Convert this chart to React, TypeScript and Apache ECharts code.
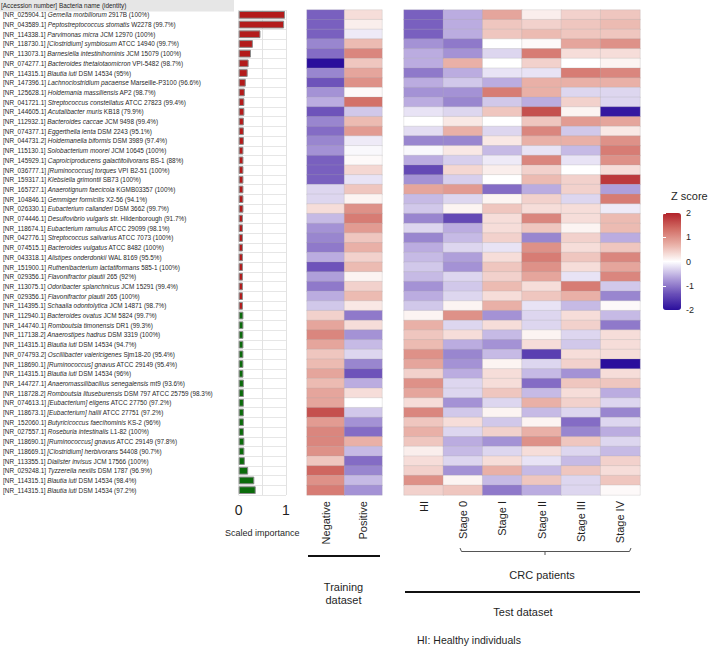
import React, { useEffect, useRef } from "react";
import * as echarts from "echarts";

const accessions = ["NR_025904.1","NR_043589.1","NR_114338.1","NR_118730.1","NR_113073.1","NR_074277.1","NR_114315.1","NR_147396.1","NR_125628.1","NR_041721.1","NR_144605.1","NR_112932.1","NR_074377.1","NR_044731.2","NR_115130.1","NR_145929.1","NR_036777.1","NR_159317.1","NR_165727.1","NR_104846.1","NR_026330.1","NR_074446.1","NR_118674.1","NR_042776.1","NR_074515.1","NR_043318.1","NR_151900.1","NR_029356.1","NR_113075.1","NR_029356.1","NR_114395.1","NR_112940.1","NR_144740.1","NR_117138.2","NR_114315.1","NR_074793.2","NR_118690.1","NR_114315.1","NR_144727.1","NR_118728.2","NR_074613.1","NR_118673.1","NR_152060.1","NR_027557.1","NR_118690.1","NR_118669.1","NR_113355.1","NR_029248.1","NR_114315.1","NR_114315.1"];

const speciesNames = ["Gemella morbillorum","Peptostreptococcus stomatis","Parvimonas micra","[Clostridium] symbiosum","Barnesiella intestinihominis","Bacteroides thetaiotaomicron","Blautia luti","Lachnoclostridium pacaense","Holdemania massiliensis","Streptococcus constellatus","Acutalibacter muris","Bacteroides caccae","Eggerthella lenta","Holdemanella biformis","Solobacterium moorei","Caproiciproducens galactitolivorans","[Ruminococcus] torques","Klebsiella grimontii","Anaerotignum faecicola","Gemmiger formicilis","Eubacterium callanderi","Desulfovibrio vulgaris","Eubacterium ramulus","Streptococcus salivarius","Bacteroides vulgatus","Alistipes onderdonkii","Ruthenibacterium lactatiformans","Flavonifractor plautii","Odoribacter splanchnicus","Flavonifractor plautii","Schaalia odontolytica","Bacteroides ovatus","Romboutsia timonensis","Anaerostipes hadrus","Blautia luti","Oscillibacter valericigenes","[Ruminococcus] gnavus","Blautia luti","Anaeromassilibacillus senegalensis","Romboutsia lituseburensis","[Eubacterium] eligens","[Eubacterium] hallii","Butyricicoccus faecihominis","Roseburia intestinalis","[Ruminococcus] gnavus","[Clostridium] herbivorans","Dialister invisus","Tyzzerella nexilis","Blautia luti","Blautia luti"];

const strains = ["2917B","W2278","JCM 12970","ATCC 14940","JCM 15079","VPI-5482","DSM 14534","Marseille-P3100","AP2","ATCC 27823","KB18","JCM 9498","DSM 2243","DSM 3989","JCM 10645","BS-1","VPI B2-51","SB73","KGMB03357","X2-56","DSM 3662","str. Hildenborough","ATCC 29099","ATCC 7073","ATCC 8482","WAL 8169","585-1","265","JCM 15291","265","JCM 14871","JCM 5824","DR1","DSM 3319","DSM 14534","Sjm18-20","ATCC 29149","DSM 14534","mt9","DSM 797 ATCC 25759","ATCC 27750","ATCC 27751","KS-2","L1-82","ATCC 29149","54408","JCM 17566","DSM 1787","DSM 14534","DSM 14534"];

const identities = ["100%","99.7%","100%","99.7%","100%","98.7%","95%","96.6%","98.7%","99.4%","79.9%","99.4%","95.1%","97.4%","100%","88%","100%","100%","100%","94.1%","99.7%","91.7%","98.1%","100%","100%","95.5%","100%","92%","99.4%","100%","98.7%","99.7%","99.3%","100%","94.7%","95.4%","95.4%","96%","93.6%","98.3%","97.2%","97.2%","96%","100%","97.8%","90.7%","100%","96.9%","98.4%","97.2%"];

// R = enriched in CRC (red bar), G = depleted (green bar)
const groups = ["R","R","R","R","R","R","R","R","R","R","R","R","R","R","R","R","R","R","R","R","R","R","R","R","R","R","R","R","R","R","R","G","G","G","G","G","G","G","G","G","G","G","G","G","G","G","G","G","G","G"];

const importance = [0.98,0.96,0.46,0.30,0.26,0.21,0.19,0.15,0.13,0.12,0.12,0.11,0.11,0.11,0.10,0.10,0.10,0.10,0.10,0.10,0.10,0.09,0.09,0.09,0.09,0.09,0.09,0.09,0.09,0.09,0.09,0.10,0.10,0.10,0.10,0.10,0.10,0.10,0.11,0.11,0.11,0.11,0.11,0.11,0.12,0.12,0.13,0.20,0.33,0.36];

const trainingCols = ["Negative", "Positive"];
const testCols = ["HI", "Stage 0", "Stage I", "Stage II", "Stage III", "Stage IV"];

const negVals = [-1.2,-1.2,-1.2,-0.9,-1.1,-2.0,-0.9,-1.3,-0.8,-0.6,-1.3,-0.9,-1.1,-0.9,-0.8,-1.2,-1.2,-1.2,-0.3,-0.3,0.3,-0.5,-0.8,-0.9,-1.0,-0.6,-1.3,-0.7,-1.0,-0.6,-0.4,0.4,0.8,1.1,0.8,0.5,0.6,0.8,0.6,0.8,0.8,1.6,0.9,1.1,1.1,1.0,0.5,1.4,1.0,1.2];
const posVals = [0.3,0.15,-0.15,0.6,1.1,0.5,0.8,1.0,0.05,1.3,-0.4,0.6,0.9,-0.15,-0.05,0.05,0.35,-0.2,0.5,0.1,1.0,1.2,0.9,0.5,0.7,0.4,0.6,0.1,0.4,0.6,0.2,-1.0,0.3,-0.8,-0.5,-0.3,-0.9,-1.3,-0.6,0.3,0,-0.4,-0.8,-1.1,0.7,-0.5,-1.1,-0.9,-0.5,-0.8];

const hiVals = [-1.2,-1.2,-1.2,-0.8,-0.6,-0.6,-1.0,-0.6,-0.8,-0.6,-0.2,0,-0.25,-0.9,-0.05,-0.6,-1.4,-0.8,0.8,-0.5,-0.4,-0.9,-0.3,-0.9,-0.6,-0.5,-0.4,-0.5,-0.8,-0.6,-0.4,0.1,0.7,0.5,0.6,1.0,0.8,0.4,1.0,0.8,0.3,1.1,0.5,0.7,0.5,0.15,0.3,0.4,1.0,0.4];
const s0Vals = [-0.6,-0.6,-0.6,-1.0,-0.8,0.7,-0.6,-0.4,-0.8,-0.9,-0.3,0.2,0.7,-0.9,0.2,-0.35,0.35,-0.35,0.9,-0.3,0.1,-1.4,-0.6,-0.5,-0.3,-0.7,-0.8,-0.3,-0.4,-0.3,0.1,1.0,-0.3,0.3,-0.6,-0.9,-0.8,-0.6,-0.3,-0.3,-0.8,-0.4,0.3,-0.3,-0.6,-0.5,-0.3,-0.8,0.1,0.5];
const s1Vals = [0.8,0.5,0.5,0,-0.3,0,-0.2,-0.6,1.2,-0.4,0.5,0,-0.3,0.2,-0.5,-0.15,0.15,0,-1.1,0.1,0.5,0.3,0.3,0.4,-0.2,0.3,0.5,0.4,0.6,0.3,0.7,-0.8,0.3,-0.5,-0.8,-0.5,0.1,0.3,0.3,0.5,-0.3,0.1,-0.4,0.4,-0.8,-0.3,0.3,0.7,-0.5,-1.0];
const s2Vals = [0.15,0.4,0.6,0.05,1.2,0.4,-0.2,0.7,0.7,-0.6,1.6,0.5,1.1,0.7,-0.2,1.1,0.4,0.6,-0.6,0.4,0.3,1.1,0.5,-0.9,1.0,1.2,1.0,0.8,0.3,0.5,-0.2,-0.3,-0.3,0.1,0.3,-1.5,-0.3,-0.5,-1.1,-0.5,0.7,-0.5,0.1,0.7,1.0,0.3,-0.2,-0.5,0.5,-0.6];
const s3Vals = [0.4,0.5,0.5,0.8,0.3,0,1.2,0.7,-0.3,0.4,0.1,0.9,-0.4,0.7,-0.5,-0.2,0,0.4,0.4,-0.3,0.3,0.3,0.1,0.4,0.3,0.5,0.3,-0.2,1.2,0.7,-0.5,0.3,0.4,-0.3,-0.4,0.3,0.4,-0.8,0.5,0.3,0.4,-0.3,-1.1,-0.9,0.5,-0.3,-0.5,0.5,-0.3,-0.3];
const s4Vals = [0.5,0.6,0.5,1.0,0.3,0.1,1.1,0.7,-0.3,-0.3,-1.9,0.8,0.2,1.0,1.2,1.0,0.3,1.8,-0.7,1.2,-0.15,0.6,0.6,-0.6,0.5,1.1,0.8,1.1,-0.4,-0.9,0.05,-0.5,-1.0,0.3,0.3,0.3,-2.0,0.3,0.5,-0.6,-0.3,-0.9,-0.3,-0.6,-0.3,-0.5,0.4,0.3,0.5,0.05];

const zTicks = [-2, 2, 1];

const FONT = "'Liberation Sans', Arial, sans-serif";
const TXT = "#1f1f1f";

export default function App() {
  const ref = useRef<HTMLDivElement>(null);
  useEffect(() => {
    if (!ref.current) return;
    const chart = echarts.init(ref.current, undefined, { renderer: "svg" });
    const rowLabels = accessions.map((a, i) => `${a}|${speciesNames[i]}|${strains[i]}|${identities[i]}`);
    const trainData: number[][] = [];
    [negVals, posVals].forEach((col, c) => col.forEach((v, r) => trainData.push([c, r, v])));
    const testData: number[][] = [];
    [hiVals, s0Vals, s1Vals, s2Vals, s3Vals, s4Vals].forEach((col, c) => col.forEach((v, r) => testData.push([c, r, v])));
    const top = 10;
    const h = 485;
    const option: any = {
      animation: false,
      backgroundColor: "#ffffff",
      textStyle: { fontFamily: FONT },
      grid: [
        { left: 236.7, top, width: 49.3, height: h, containLabel: false },
        { left: 307, top, width: 75, height: h },
        { left: 404, top, width: 236, height: h },
        { left: 663, top: 213, width: 18, height: 97 },
      ],
      xAxis: [
        {
          gridIndex: 0, type: "value", min: 0, max: 1, interval: 0.5,
          axisLine: { show: false }, axisTick: { show: false },
          splitLine: { show: true, lineStyle: { color: "#e2e2e2", width: 1 } },
          axisLabel: { fontSize: 14, color: TXT, margin: 8, fontFamily: FONT,
            formatter: (v: number) => (v === 0.5 ? "" : String(v)) },
          name: "Scaled importance", nameLocation: "middle", nameGap: 33,
          nameTextStyle: { fontSize: 9, color: TXT, fontFamily: FONT },
        },
        {
          gridIndex: 1, type: "category", data: trainingCols,
          axisLine: { show: false }, axisTick: { show: false },
          axisLabel: { rotate: 90, fontSize: 11, color: TXT, margin: 6, fontFamily: FONT },
        },
        {
          gridIndex: 2, type: "category", data: testCols,
          axisLine: { show: false }, axisTick: { show: false },
          axisLabel: { rotate: 90, fontSize: 11, color: TXT, margin: 6, fontFamily: FONT, interval: 0 },
        },
        { gridIndex: 3, type: "value", min: 0, max: 1, show: false },
      ],
      yAxis: [
        {
          gridIndex: 0, type: "category", data: rowLabels, inverse: true,
          axisLine: { show: false }, axisTick: { show: false },
          splitLine: { show: true, lineStyle: { color: "#e6e6e6", width: 1 } },
          axisLabel: {
            interval: 0, align: "left", margin: 235.7,
            formatter: (_v: string, i: number) =>
              `{a|[${accessions[i]}] }{b|${speciesNames[i]}}{a| ${strains[i]} (${identities[i]})}`,
            rich: {
              a: { fontSize: 6.4, fontFamily: FONT, color: TXT },
              b: { fontSize: 6.4, fontFamily: FONT, color: TXT, fontStyle: "italic" },
            },
          },
        },
        { gridIndex: 1, type: "category", data: rowLabels, inverse: true, show: false },
        { gridIndex: 2, type: "category", data: rowLabels, inverse: true, show: false },
        {
          gridIndex: 3, type: "value", min: -2, max: 2, interval: 1, position: "right", z: 10,
          axisLine: { show: false }, splitLine: { show: false },
          axisTick: { show: true, inside: true, length: 3, lineStyle: { color: "#ffffff", width: 1 } },
          axisLabel: { fontSize: 9, color: TXT, margin: 5, fontFamily: FONT },
        },
        {
          gridIndex: 3, type: "value", min: -2, max: 2, interval: 1, position: "left", z: 10,
          axisLine: { show: false }, splitLine: { show: false }, axisLabel: { show: false },
          axisTick: { show: true, inside: true, length: 3, lineStyle: { color: "#ffffff", width: 1 } },
        },
      ],
      visualMap: {
        type: "continuous", min: -2, max: 2, seriesIndex: [1, 2], calculable: false,
        left: 663, top: 213, itemWidth: 18, itemHeight: 97, padding: 0, orient: "vertical",
        text: null, showLabel: false,
        inRange: { color: ["#2a0e9c", "#6a4fb8", "#b3a3dc", "#ffffff", "#eab3aa", "#d26e66", "#b2222a"] },
      },
      series: [
        {
          type: "bar", xAxisIndex: 0, yAxisIndex: 0, barCategoryGap: "20%",
          data: importance.map((v, i) => ({
            value: v,
            itemStyle: { color: groups[i] === "R" ? "#b31b1b" : "#0b6b0b", borderColor: "#8a8a8a", borderWidth: 1 },
          })),
        },
        {
          type: "heatmap", xAxisIndex: 1, yAxisIndex: 1, data: trainData,
          itemStyle: { borderColor: "rgba(170,170,170,0.5)", borderWidth: 0.5 },
        },
        {
          type: "heatmap", xAxisIndex: 2, yAxisIndex: 2, data: testData,
          itemStyle: { borderColor: "rgba(170,170,170,0.5)", borderWidth: 0.5 },
        },
        { type: "scatter", xAxisIndex: 3, yAxisIndex: 3, data: [] },
      ],
      graphic: [
        { type: "rect", shape: { x: 0, y: 0, width: 234, height: 11.5 }, style: { fill: "#e6e6e6" }, z: -1 },
        { type: "text", x: 1, y: 5.8, style: { text: "[Accession number] Bacteria name (identity)", fontSize: 6.4, fontFamily: FONT, fill: TXT, verticalAlign: "middle" } },
        { type: "line", shape: { x1: 308, y1: 556, x2: 380, y2: 556 }, style: { stroke: "#111", lineWidth: 2 } },
        { type: "text", x: 343.5, y: 587, style: { text: "Training", fontSize: 11, fontFamily: FONT, fill: TXT, align: "center", verticalAlign: "middle" } },
        { type: "text", x: 343.5, y: 600, style: { text: "dataset", fontSize: 11, fontFamily: FONT, fill: TXT, align: "center", verticalAlign: "middle" } },
        { type: "polyline", shape: { points: [[460, 548], [461.5, 551.5], [629.5, 551.5], [631, 548]] }, style: { stroke: "#555", lineWidth: 1, fill: null } },
        { type: "line", shape: { x1: 545, y1: 551.5, x2: 545, y2: 555 }, style: { stroke: "#555", lineWidth: 1 } },
        { type: "text", x: 542, y: 575, style: { text: "CRC patients", fontSize: 11, fontFamily: FONT, fill: TXT, align: "center", verticalAlign: "middle" } },
        { type: "line", shape: { x1: 405, y1: 592, x2: 640, y2: 592 }, style: { stroke: "#111", lineWidth: 2 } },
        { type: "text", x: 523, y: 612, style: { text: "Test dataset", fontSize: 11, fontFamily: FONT, fill: TXT, align: "center", verticalAlign: "middle" } },
        { type: "text", x: 417, y: 640, style: { text: "HI: Healthy individuals", fontSize: 10.5, fontFamily: FONT, fill: TXT, verticalAlign: "middle" } },
        { type: "text", x: 671, y: 196, style: { text: "Z score", fontSize: 11, fontFamily: FONT, fill: TXT, verticalAlign: "middle" } },
      ],
    };
    chart.setOption(option);
    return () => chart.dispose();
  }, []);
  return <div ref={ref} style={{ position: "absolute", left: 0, top: 0, width: 709, height: 647, background: "#fff" }} />;
}
